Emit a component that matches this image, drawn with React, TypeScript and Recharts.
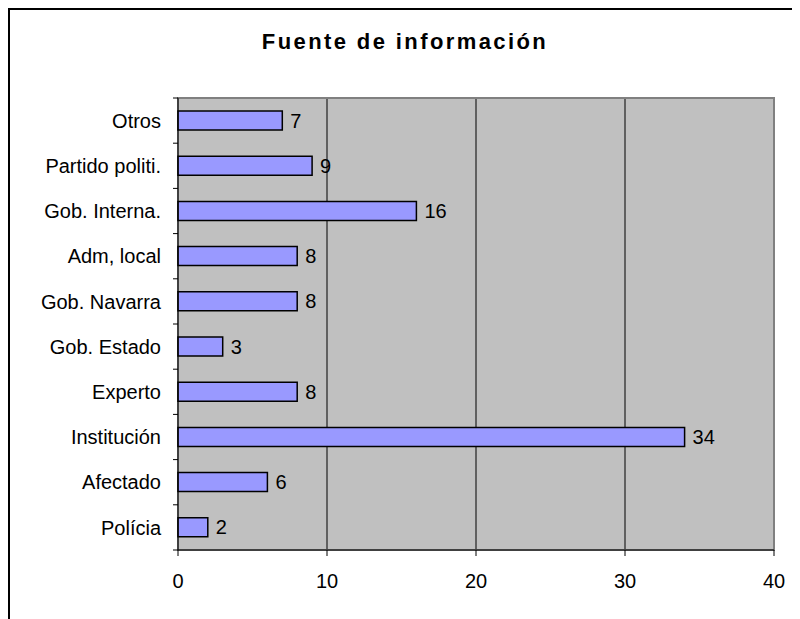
import { Bar, BarChart, CartesianGrid, LabelList, ReferenceArea, XAxis, YAxis } from 'recharts'

// Categories listed top to bottom, as they appear in the chart
const categories = [
  'Otros',
  'Partido politi.',
  'Gob. Interna.',
  'Adm, local',
  'Gob. Navarra',
  'Gob. Estado',
  'Experto',
  'Institución',
  'Afectado',
  'Polícia'
]
const values = [7, 9, 16, 8, 8, 3, 8, 34, 6, 2]
const xTicks = [0, 10, 20, 30, 40]

const data = categories.map((name, i) => ({ name, value: values[i] }))

const FONT = "Arial, 'Liberation Sans', sans-serif"
const PLOT_H = 452
const BAND = PLOT_H / categories.length
const LABEL_GAP = 17

function CategoryTick(props: any) {
  const { x, y, payload, index } = props
  const axisX = x + LABEL_GAP
  return (
    <g>
      <text x={x} y={y} dy='0.36em' textAnchor='end' fontSize={20} fontFamily={FONT} fill='#000'>
        {payload.value}
      </text>
      <line x1={axisX - 5} x2={axisX} y1={y - BAND / 2} y2={y - BAND / 2} stroke='#000' />
      {index === categories.length - 1 && (
        <line x1={axisX - 5} x2={axisX} y1={y + BAND / 2} y2={y + BAND / 2} stroke='#000' />
      )}
    </g>
  )
}

export default function App() {
  return (
    <div
      style={{
        position: 'relative',
        width: 800,
        height: 619,
        border: '2px solid #000',
        boxSizing: 'border-box',
        background: '#fff'
      }}
    >
      <div
        style={{
          position: 'absolute',
          top: 19,
          left: 0,
          width: 790,
          textAlign: 'center',
          fontFamily: FONT,
          fontWeight: 'bold',
          fontSize: 22,
          letterSpacing: 2.4
        }}
      >
        Fuente de información
      </div>
      <BarChart
        width={790}
        height={607}
        data={data}
        layout='vertical'
        barSize={19}
        margin={{ top: 88, right: 26, left: 0, bottom: 27 }}
      >
        <CartesianGrid fill='#C0C0C0' fillOpacity={1} stroke='#000' horizontal={false} />
        <ReferenceArea x1={0} x2={40} fill='none' stroke='#808080' strokeWidth={2} ifOverflow='visible' />
        <XAxis
          type='number'
          domain={[0, 40]}
          ticks={xTicks}
          height={40}
          tickSize={6}
          tickMargin={18}
          stroke='#000'
          tick={{ fill: '#000', fontSize: 20, fontFamily: FONT }}
        />
        <YAxis
          type='category'
          dataKey='name'
          width={168}
          tickLine={false}
          tickSize={0}
          tickMargin={LABEL_GAP}
          stroke='#000'
          interval={0}
          tick={<CategoryTick />}
        />
        <Bar dataKey='value' fill='#9999FF' stroke='#000' strokeWidth={1.5} isAnimationActive={false}>
          <LabelList dataKey='value' position='right' offset={8} fill='#000' fontSize={20} fontFamily={FONT} />
        </Bar>
      </BarChart>
    </div>
  )
}
